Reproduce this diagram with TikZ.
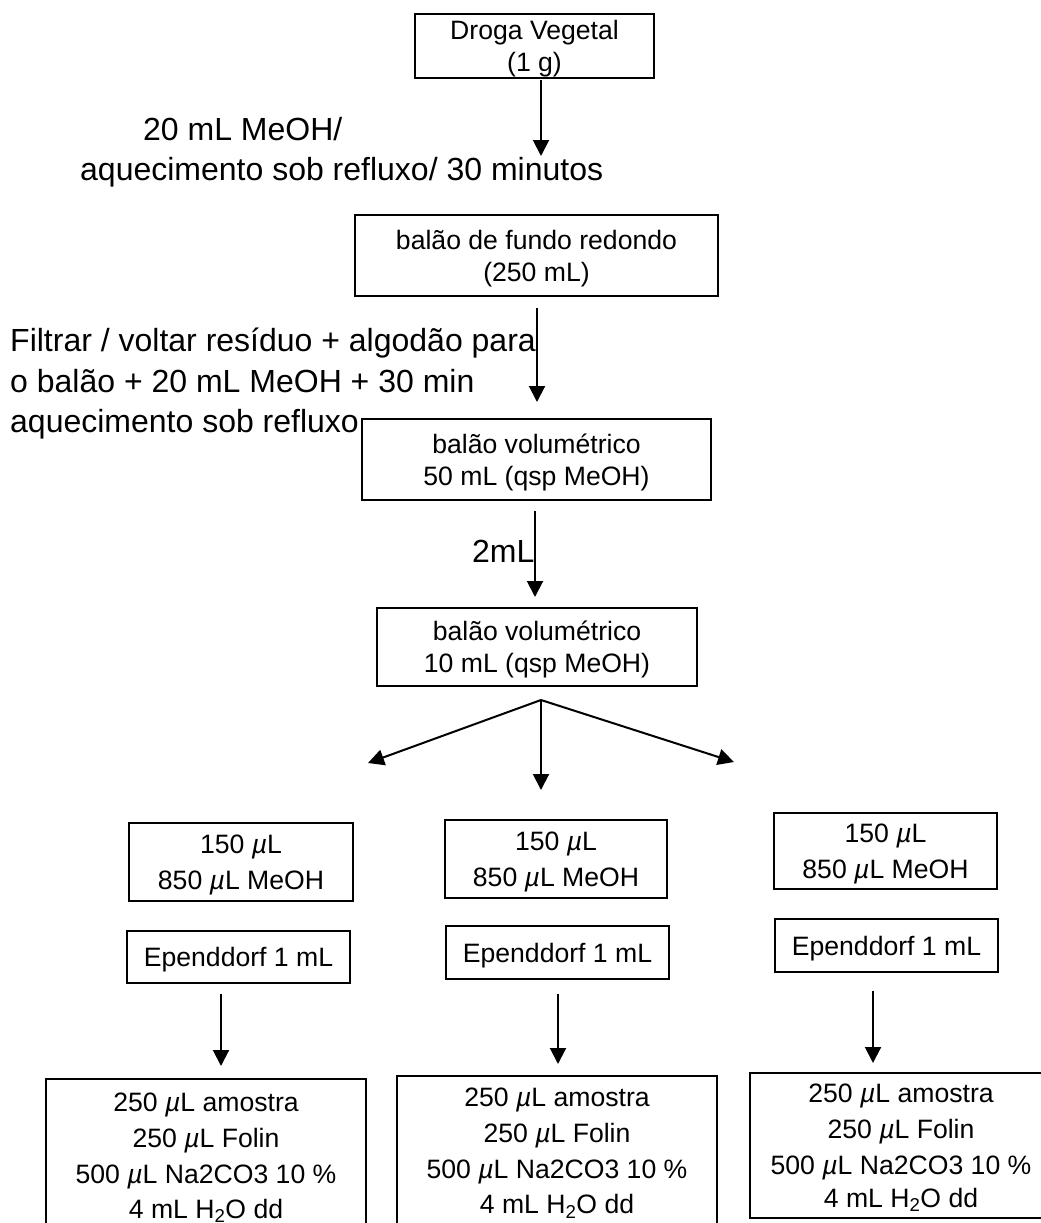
\documentclass[tikz,border=0pt]{standalone}
\usepackage{fontspec}
\setmainfont{Liberation Sans}
\usetikzlibrary{arrows.meta}

\newcommand{\muL}{{\itshape µ}L}

\begin{document}
\begin{tikzpicture}[x=1pt, y=-1pt,
    box/.style={draw, line width=2pt, align=center, inner sep=0pt, text depth=0pt,
      font=\fontsize{26.6}{32}\selectfont},
    arr/.style={line width=2pt, -{Triangle[width=16pt,length=16pt]}},
    lbl/.style={align=left, anchor=base west, inner sep=0pt,
      font=\fontsize{32}{40}\selectfont}]
    \useasboundingbox (0,0) rectangle (1041,1223);

    % main column
    \node[box, minimum width=239pt, minimum height=64pt] (droga) at (534.5,46) {Droga Vegetal\\(1 g)};
    \node[box, minimum width=363pt, minimum height=81pt] (fundo) at (536.5,255.5) {bal\~ao de fundo redondo\\(250 mL)};
    \node[box, minimum width=349pt, minimum height=81pt] (vol50) at (536.5,459.5) {balão volumétrico\\50 mL (qsp MeOH)};
    \node[box, minimum width=320pt, minimum height=78pt] (vol10) at (537,647) {balão volumétrico\\10 mL (qsp MeOH)};

    % three aliquots
    \node[box, minimum width=224pt, minimum height=78pt] (aliqA) at (241,862) {150 \muL\\[4pt]850 \muL{} MeOH};
    \node[box, minimum width=222pt, minimum height=78pt] (aliqB) at (556,859) {150 \muL\\[4pt]850 \muL{} MeOH};
    \node[box, minimum width=223pt, minimum height=76pt] (aliqC) at (885.5,851) {150 \muL\\[4pt]850 \muL{} MeOH};

    \node[box, minimum width=223pt, minimum height=52pt] (eppA) at (238.5,957) {Ependdorf 1 mL};
    \node[box, minimum width=223pt, minimum height=53pt] (eppB) at (557.5,952.5) {Ependdorf 1 mL};
    \node[box, minimum width=223pt, minimum height=53pt] (eppC) at (886.5,945.5) {Ependdorf 1 mL};

    \node[box, minimum width=320pt, minimum height=153pt] (reacA) at (206,1155.5) {250 \muL{} amostra\\[4pt]250 \muL{} Folin\\[4pt]500 \muL{} Na2CO3 10 \%\\[3pt]4 mL H\textsubscript{2}O dd};
    \node[box, minimum width=320pt, minimum height=150pt] (reacB) at (557,1151) {250 \muL{} amostra\\[4pt]250 \muL{} Folin\\[4pt]500 \muL{} Na2CO3 10 \%\\[3pt]4 mL H\textsubscript{2}O dd};
    \node[box, minimum width=302pt, minimum height=145pt] (reacC) at (901,1145.5) {250 \muL{} amostra\\[4pt]250 \muL{} Folin\\[4pt]500 \muL{} Na2CO3 10 \%\\[1pt]4 mL H\textsubscript{2}O dd};

    % step labels
    \node[lbl] (lblMeoh) at (80,180) {\hspace*{63pt}20 mL MeOH/\\aquecimento sob refluxo/ 30 minutos};
    \node[lbl] (lblFiltrar) at (10,432) {Filtrar / voltar resíduo + algodão para\\[1pt]o balão + 20 mL MeOH + 30 min\\aquecimento sob refluxo};
    \node[lbl] (lbl2ml) at (472,562) {2mL};

    % arrow ends
    \coordinate (s1) at (541,80);   \coordinate (e1) at (541,156);
    \coordinate (s2) at (537,308);  \coordinate (e2) at (537,402);
    \coordinate (s3) at (535,511);  \coordinate (e3) at (535,597);
    \coordinate (fork) at (541,700);
    \coordinate (forkA) at (368,763);
    \coordinate (forkB) at (541,790);
    \coordinate (forkC) at (734,762);
    \coordinate (sA) at (221,994);  \coordinate (eA) at (221,1066);
    \coordinate (sB) at (558,994);  \coordinate (eB) at (558,1064);
    \coordinate (sC) at (873,991);  \coordinate (eC) at (873,1063);

    \draw[arr] (s1) -- (e1);
    \draw[arr] (s2) -- (e2);
    \draw[arr] (s3) -- (e3);
    \draw[arr] (fork) -- (forkA);
    \draw[arr] (fork) -- (forkB);
    \draw[arr] (fork) -- (forkC);
    \draw[arr] (sA) -- (eA);
    \draw[arr] (sB) -- (eB);
    \draw[arr] (sC) -- (eC);
\end{tikzpicture}
\end{document}
